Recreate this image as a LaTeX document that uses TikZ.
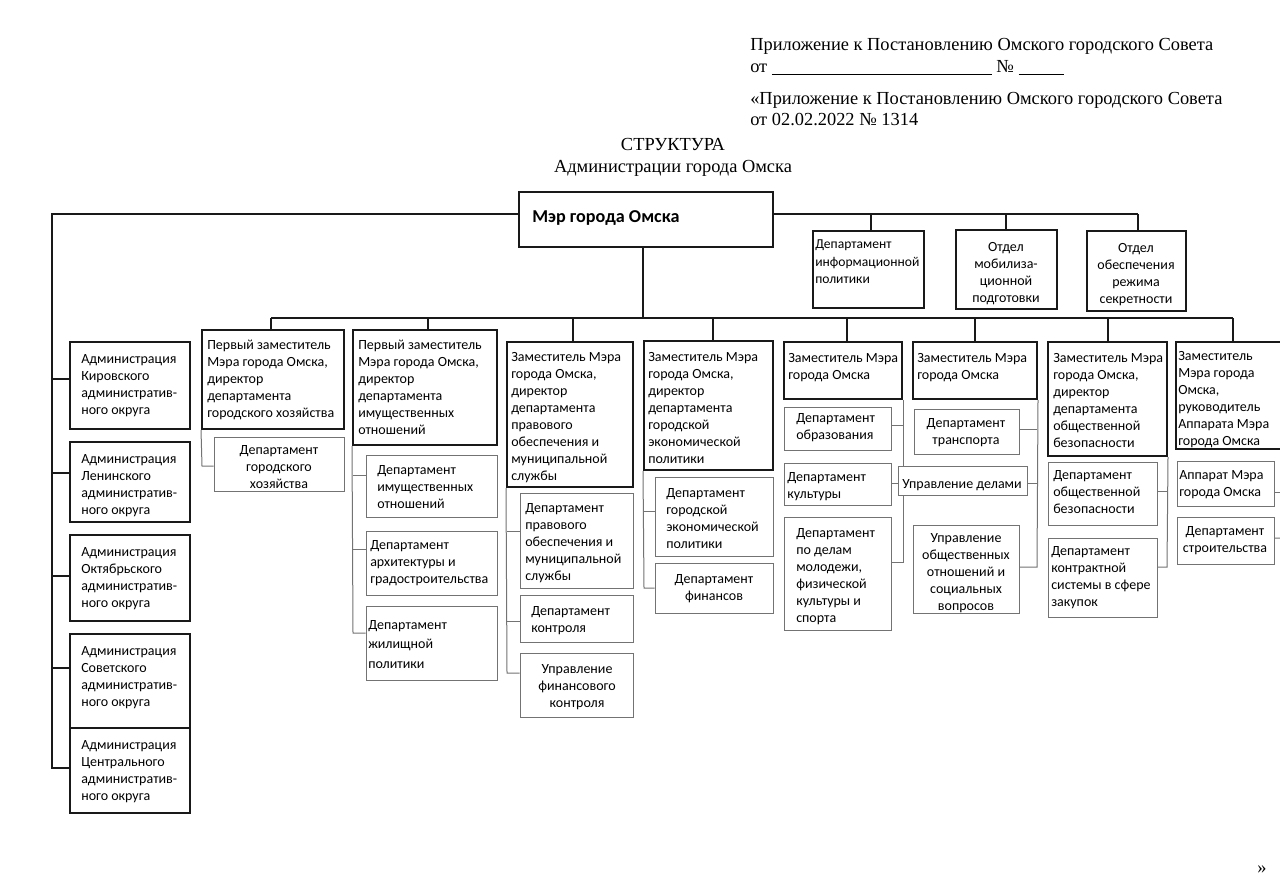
\documentclass[tikz,border=0pt]{standalone}
\usepackage{fontspec}
\setmainfont{Carlito}
\newfontfamily\tnr{Liberation Serif}
\usetikzlibrary{fit}
\newcommand\bxfont{\fontsize{10.5}{12.75}\selectfont}
\newcommand\hdfont{\tnr\fontsize{13.8}{15.75}\selectfont}
\newcommand\bx[6]{\path (#3,#4) coordinate (#2-a) (#5,#6) coordinate (#2-b); \node[#1,fit=(#2-a)(#2-b),inner sep=0pt] (#2) {};}
\begin{document}
\begin{tikzpicture}[x=0.75pt,y=-0.75pt,
  boss/.style={draw=black!90,line width=1.5pt},
  sub/.style={draw=black!55,line width=0.75pt},
  bus/.style={draw=black!90,line width=1.4pt},
  link/.style={draw=black!55,line width=0.75pt},
  lt/.style={anchor=north west,inner sep=0pt,align=left,font=\bxfont,yshift=-2.2pt},
  ct/.style={anchor=north,inner sep=0pt,align=center,font=\bxfont,yshift=-2.2pt},
  hd/.style={anchor=base west,inner sep=0pt,font=\hdfont}]
\useasboundingbox (0,0) rectangle (1280,895);
\clip (0,0) rectangle (1280,895);
\fill[white] (0,0) rectangle (1280,895);

% header
\node[hd] (h1) at (750,51) {Приложение к Постановлению Омского городского Совета};
\node[hd] (h2) at (750,73) {от \rule[-1.5pt]{165pt}{0.5pt} № \rule[-1.5pt]{34pt}{0.5pt}};
\node[hd] (h3) at (750,105) {«Приложение к Постановлению Омского городского Совета};
\node[hd] (h4) at (750,126) {от 02.02.2022 № 1314};
\node[hd,anchor=base] (ti1) at (673,151) {СТРУКТУРА};
\node[hd,anchor=base] (ti2) at (673,172) {Администрации города Омска};
\node[hd,anchor=base] (end) at (1262,873) {»};

% mayor
\bx{boss}{mayor}{519}{192}{773}{247}
\node[anchor=base west,inner sep=0pt,font=\fontsize{13.6}{16}\selectfont\bfseries] (t-mayor) at (532,222) {Мэр города Омска};

% top right units
\bx{boss}{dip}{813}{231}{924}{308}
\node[lt,font=\fontsize{10.2}{13}\selectfont] (t-dip) at (815,237) {Департамент\\информационной\\политики};
\bx{boss}{mob}{956}{230}{1057}{309}
\node[ct] (t-mob) at (1006,239) {Отдел\\мобилиза-\\ционной\\подготовки};
\bx{boss}{sec}{1087}{231}{1186}{311}
\node[ct] (t-sec) at (1136,240) {Отдел\\обеспечения\\режима\\секретности};
\coordinate (lt) at (52,214);
\coordinate (tr1) at (871,214);
\coordinate (tr2) at (1006,214);
\coordinate (tr3) at (1138,214);
\draw[bus] (mayor.east |- tr1) -- (tr3);
\draw[bus] (tr1) -- (dip.north -| tr1);
\draw[bus] (tr2) -- (mob.north -| tr2);
\draw[bus] (tr3) -- (sec.north -| tr3);

% administrations
\bx{boss}{kir}{70}{342}{190}{429}
\node[lt] (t-kir) at (81,351) {Администрация\\Кировского\\административ-\\ного округа};
\bx{boss}{len}{70}{442}{190}{522}
\node[lt] (t-len) at (81,451) {Администрация\\Ленинского\\административ-\\ного округа};
\bx{boss}{okt}{70}{535}{190}{621}
\node[lt] (t-okt) at (81,544) {Администрация\\Октябрьского\\административ-\\ного округа};
\bx{boss}{sov}{70}{634}{190}{728}
\node[lt] (t-sov) at (81,643) {Администрация\\Советского\\административ-\\ного округа};
\bx{boss}{cen}{70}{728}{190}{813}
\node[lt] (t-cen) at (81,737) {Администрация\\Центрального\\административ-\\ного округа};
\coordinate (s1) at (52,379);
\coordinate (s2) at (52,473);
\coordinate (s3) at (52,576);
\coordinate (s4) at (52,668);
\coordinate (s5) at (52,768);
\draw[bus] (mayor.west |- lt) -- (lt) -- (s5) -- (s5 -| cen.west);
\draw[bus] (s1) -- (s1 -| kir.west);
\draw[bus] (s2) -- (s2 -| len.west);
\draw[bus] (s3) -- (s3 -| okt.west);
\draw[bus] (s4) -- (s4 -| sov.west);

% deputies
\bx{boss}{z1}{202}{330}{344}{429}
\node[lt] (t-z1) at (207,337) {Первый заместитель\\Мэра города Омска,\\директор\\департамента\\городского хозяйства};
\bx{boss}{z2}{353}{330}{497}{445}
\node[lt] (t-z2) at (358,337) {Первый заместитель\\Мэра города Омска,\\директор\\департамента\\имущественных\\отношений};
\bx{boss}{z3}{507}{342}{633}{487}
\node[lt] (t-z3) at (511,349) {Заместитель Мэра\\города Омска,\\директор\\департамента\\правового\\обеспечения и\\муниципальной\\службы};
\bx{boss}{z4}{644}{341}{773}{470}
\node[lt] (t-z4) at (648,349) {Заместитель Мэра\\города Омска,\\директор\\департамента\\городской\\экономической\\политики};
\bx{boss}{z5}{784}{342}{902}{399}
\node[lt] (t-z5) at (788,350) {Заместитель Мэра\\города Омска};
\bx{boss}{z6}{913}{342}{1037}{399}
\node[lt] (t-z6) at (917,350) {Заместитель Мэра\\города Омска};
\bx{boss}{z7}{1048}{342}{1167}{456}
\node[lt] (t-z7) at (1053,350) {Заместитель Мэра\\города Омска,\\директор\\департамента\\общественной\\безопасности};
\bx{boss}{z8}{1176}{342}{1290}{449}
\node[lt] (t-z8) at (1178,348) {Заместитель\\Мэра города\\Омска,\\руководитель\\Аппарата Мэра\\города Омска};

\coordinate (md) at (643,318);
\coordinate (b1) at (271,318);
\coordinate (b2) at (428,318);
\coordinate (b3) at (573,318);
\coordinate (b4) at (713,318);
\coordinate (b5) at (847,318);
\coordinate (b6) at (975,318);
\coordinate (b7) at (1108,318);
\coordinate (b8) at (1233,318);
\draw[bus] (mayor.south -| md) -- (md);
\draw[bus] (b1) -- (b8);
\draw[bus] (b1) -- (z1.north -| b1);
\draw[bus] (b2) -- (z2.north -| b2);
\draw[bus] (b3) -- (z3.north -| b3);
\draw[bus] (b4) -- (z4.north -| b4);
\draw[bus] (b5) -- (z5.north -| b5);
\draw[bus] (b6) -- (z6.north -| b6);
\draw[bus] (b7) -- (z7.north -| b7);
\draw[bus] (b8) -- (z8.north -| b8);

% departments of z1
\bx{sub}{c1a}{214}{437}{344}{491}
\node[ct] (t-c1a) at (279,442) {Департамент\\городского\\хозяйства};
\coordinate (k1a) at (202,466);
\draw[link] (z1.south west) -- (k1a) -- (k1a -| c1a.west);

% z2
\bx{sub}{c2a}{366}{455}{497}{517}
\node[lt] (t-c2a) at (377,462) {Департамент\\имущественных\\отношений};
\bx{sub}{c2b}{366}{531}{497}{595}
\node[lt] (t-c2b) at (370,537) {Департамент\\архитектуры и\\градостроительства};
\bx{sub}{c2c}{366}{606}{497}{680}
\node[lt,font=\fontsize{10.5}{14.6}\selectfont] (t-c2c) at (368,617) {Департамент\\жилищной\\политики};
\coordinate (k2a) at (353,475);
\coordinate (k2b) at (353,549);
\coordinate (k2c) at (353,633);
\draw[link] (z2.south west) -- (k2c) -- (k2c -| c2c.west);
\draw[link] (k2a) -- (k2a -| c2a.west);
\draw[link] (k2b) -- (k2b -| c2b.west);

% z3
\bx{sub}{c3a}{520}{493}{633}{588}
\node[lt] (t-c3a) at (525,500) {Департамент\\правового\\обеспечения и\\муниципальной\\службы};
\bx{sub}{c3b}{520}{595}{633}{642}
\node[lt] (t-c3b) at (531,603) {Департамент\\контроля};
\bx{sub}{c3c}{520}{653}{633}{717}
\node[ct] (t-c3c) at (577,661) {Управление\\финансового\\контроля};
\coordinate (k3a) at (507,531);
\coordinate (k3b) at (507,621);
\coordinate (k3c) at (507,673);
\draw[link] (z3.south west) -- (k3c) -- (k3c -| c3c.west);
\draw[link] (k3a) -- (k3a -| c3a.west);
\draw[link] (k3b) -- (k3b -| c3b.west);

% z4
\bx{sub}{c4a}{655}{477}{773}{556}
\node[lt] (t-c4a) at (666,485) {Департамент\\городской\\экономической\\политики};
\bx{sub}{c4b}{655}{563}{773}{613}
\node[ct] (t-c4b) at (714,571) {Департамент\\финансов};
\coordinate (k4a) at (644,511);
\coordinate (k4b) at (644,588);
\draw[link] (z4.south west) -- (k4b) -- (k4b -| c4b.west);
\draw[link] (k4a) -- (k4a -| c4a.west);

% z5
\bx{sub}{c5a}{784}{407}{891}{450}
\node[lt] (t-c5a) at (796,410) {Департамент\\образования};
\bx{sub}{c5b}{784}{463}{891}{505}
\node[lt] (t-c5b) at (787,469) {Департамент\\культуры};
\bx{sub}{c5c}{784}{517}{891}{630}
\node[lt] (t-c5c) at (796,525) {Департамент\\по делам\\молодежи,\\физической\\культуры и\\спорта};
\coordinate (k5a) at (903,425);
\coordinate (k5b) at (903,483);
\coordinate (k5c) at (903,562);
\draw[link] (z5.south east -| k5a) -- (k5c) -- (k5c -| c5c.east);
\draw[link] (k5a) -- (k5a -| c5a.east);
\draw[link] (k5b) -- (k5b -| c5b.east);

% z6
\bx{sub}{c6a}{914}{409}{1019}{454}
\node[ct] (t-c6a) at (966,415) {Департамент\\транспорта};
\bx{sub}{c6b}{913}{525}{1019}{613}
\node[ct] (t-c6b) at (966,530) {Управление\\общественных\\отношений и\\социальных\\вопросов};
\coordinate (k6a) at (1037,429);
\coordinate (k6b) at (1037,483);
\coordinate (k6c) at (1037,567);
\draw[link] (z6.south east) -- (k6c) -- (k6c -| c6b.east);
\draw[link] (k6a) -- (k6a -| c6a.east);
\bx{sub,fill=white}{ud}{898}{466}{1027}{495}
\node[ct] (t-ud) at (962,476) {Управление делами};
\draw[link] (k6b) -- (k6b -| ud.east);

% z7
\bx{sub}{c7a}{1048}{462}{1157}{525}
\node[lt] (t-c7a) at (1053,467) {Департамент\\общественной\\безопасности};
\bx{sub}{c7b}{1048}{538}{1157}{617}
\node[lt] (t-c7b) at (1051,543) {Департамент\\контрактной\\системы в сфере\\закупок};
\coordinate (k7a) at (1167,491);
\coordinate (k7b) at (1167,567);
\draw[link] (z7.south east) -- (k7b) -- (k7b -| c7b.east);
\draw[link] (k7a) -- (k7a -| c7a.east);

% z8
\bx{sub}{c8a}{1177}{461}{1274}{506}
\node[lt] (t-c8a) at (1179,467) {Аппарат Мэра\\города Омска};
\bx{sub}{c8b}{1177}{517}{1274}{564}
\node[ct] (t-c8b) at (1225,523) {Департамент\\строительства};
\coordinate (k8a) at (1290,492);
\coordinate (k8b) at (1290,538);
\draw[link] (z8.south east) -- (k8b) -- (k8b -| c8b.east);
\draw[link] (k8a) -- (k8a -| c8a.east);
\end{tikzpicture}
\end{document}
